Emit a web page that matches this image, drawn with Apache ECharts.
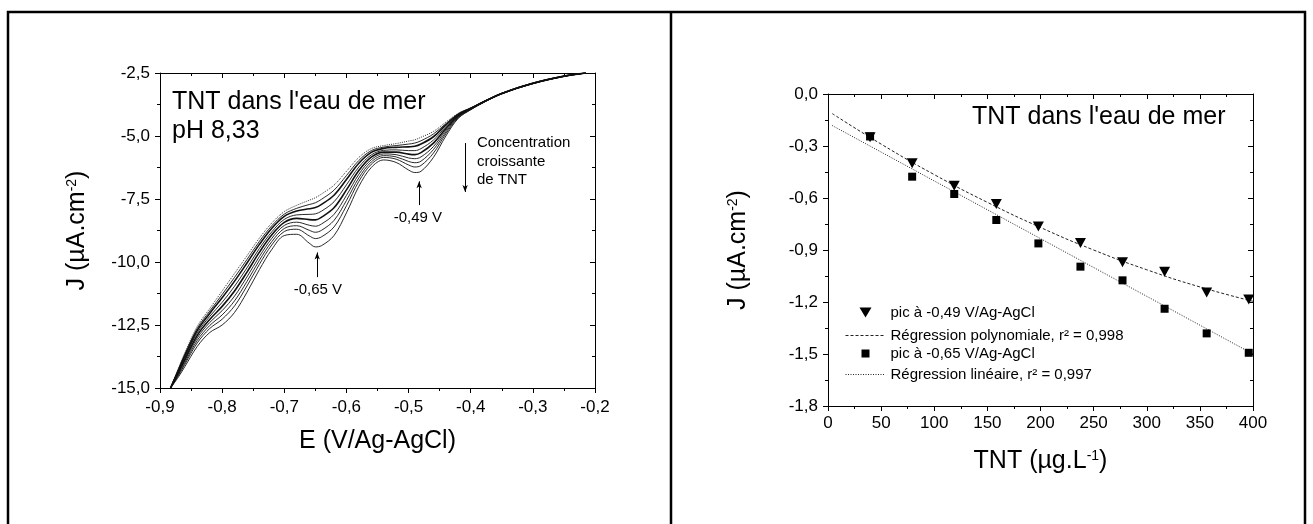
<!DOCTYPE html>
<html><head><meta charset="utf-8">
<script src="https://cdn.jsdelivr.net/npm/echarts@6/dist/echarts.min.js"></script>
<style>html,body{margin:0;padding:0;background:#fff}#c{width:1313px;height:524px}</style>
</head><body><div id="c"></div>
<script>
// ---------- Left panel: voltammograms ----------
const potentialE = [-0.883,-0.87,-0.86,-0.84,-0.82,-0.80,-0.78,-0.76,-0.74,-0.72,-0.70,-0.68,-0.66,-0.65,-0.64,-0.62,-0.60,-0.58,-0.56,-0.54,-0.52,-0.50,-0.49,-0.48,-0.46,-0.44,-0.42,-0.40,-0.38,-0.35,-0.30,-0.25,-0.215];
const curve1 = [-15.0,-14.2,-13.6,-12.55,-11.85,-11.15,-10.45,-9.75,-9.05,-8.45,-8.0,-7.75,-7.55,-7.45,-7.3,-6.95,-6.4,-5.85,-5.5,-5.38,-5.3,-5.2,-5.15,-5.05,-4.82,-4.45,-4.1,-3.88,-3.64,-3.3,-2.9,-2.62,-2.5];
const curve2 = [-15.0,-14.24,-13.66,-12.63,-11.95,-11.29,-10.61,-9.90,-9.18,-8.56,-8.10,-7.87,-7.72,-7.65,-7.51,-7.15,-6.57,-5.97,-5.58,-5.44,-5.38,-5.32,-5.28,-5.19,-4.92,-4.51,-4.12,-3.89,-3.64,-3.30,-2.90,-2.62,-2.5];
const curve3 = [-15.0,-14.27,-13.71,-12.71,-12.04,-11.42,-10.76,-10.04,-9.30,-8.66,-8.19,-7.98,-7.89,-7.84,-7.71,-7.35,-6.73,-6.08,-5.65,-5.49,-5.45,-5.43,-5.41,-5.32,-5.03,-4.56,-4.14,-3.90,-3.65,-3.31,-2.91,-2.62,-2.5];
const curve4 = [-15.0,-14.32,-13.78,-12.81,-12.16,-11.60,-10.96,-10.23,-9.46,-8.80,-8.31,-8.13,-8.11,-8.09,-7.98,-7.61,-6.94,-6.23,-5.75,-5.57,-5.55,-5.58,-5.58,-5.50,-5.16,-4.63,-4.17,-3.91,-3.65,-3.31,-2.91,-2.63,-2.5];
const curve5 = [-15.0,-14.36,-13.85,-12.91,-12.28,-11.76,-11.15,-10.40,-9.61,-8.92,-8.43,-8.27,-8.32,-8.33,-8.22,-7.85,-7.14,-6.37,-5.84,-5.64,-5.64,-5.72,-5.74,-5.66,-5.28,-4.70,-4.19,-3.92,-3.66,-3.31,-2.91,-2.63,-2.5];
const curve6 = [-15.0,-14.40,-13.92,-13.01,-12.40,-11.93,-11.35,-10.59,-9.78,-9.06,-8.55,-8.42,-8.54,-8.58,-8.49,-8.11,-7.36,-6.52,-5.94,-5.71,-5.74,-5.87,-5.90,-5.83,-5.42,-4.77,-4.22,-3.93,-3.66,-3.32,-2.92,-2.63,-2.5];
const curve7 = [-15.0,-14.45,-13.99,-13.11,-12.52,-12.10,-11.54,-10.77,-9.93,-9.19,-8.67,-8.56,-8.74,-8.82,-8.74,-8.35,-7.56,-6.66,-6.03,-5.78,-5.83,-6.01,-6.06,-6.00,-5.54,-4.84,-4.24,-3.94,-3.67,-3.32,-2.92,-2.63,-2.5];
const curve8 = [-15.0,-14.49,-14.06,-13.21,-12.64,-12.27,-11.74,-10.95,-10.09,-9.32,-8.79,-8.70,-8.96,-9.07,-9.00,-8.61,-7.77,-6.80,-6.12,-5.85,-5.92,-6.15,-6.23,-6.17,-5.68,-4.91,-4.27,-3.95,-3.67,-3.32,-2.92,-2.64,-2.5];
const curve9 = [-15.0,-14.55,-14.15,-13.35,-12.8,-12.5,-12.0,-11.2,-10.3,-9.5,-8.95,-8.9,-9.25,-9.4,-9.35,-8.95,-8.05,-7.0,-6.25,-5.95,-6.05,-6.35,-6.45,-6.4,-5.85,-5.0,-4.3,-3.96,-3.68,-3.33,-2.93,-2.64,-2.5];
const curves = [curve1, curve2, curve3, curve4, curve5, curve6, curve7, curve8, curve9];

// ---------- Right panel: calibration ----------
const tntConc = [39.6, 79.2, 118.8, 158.4, 198, 237.6, 277.2, 316.8, 356.4, 396];
const peak049 = [-0.25, -0.40, -0.53, -0.635, -0.765, -0.86, -0.97, -1.025, -1.145, -1.185];
const peak065 = [-0.245, -0.477, -0.577, -0.727, -0.862, -0.996, -1.075, -1.239, -1.381, -1.493];
const polyFitX = [4, 50, 100, 150, 200, 250, 300, 350, 400];
const polyFitJ = [-0.113, -0.289, -0.465, -0.625, -0.770, -0.900, -1.014, -1.113, -1.196];
const linFitX = [4, 400];
const linFitJ = [-0.182, -1.50];

const seriesNames = ['pic à -0,49 V/Ag-AgCl', 'Régression polynomiale, r² = 0,998', 'pic à -0,65 V/Ag-AgCl', 'Régression linéaire, r² = 0,997'];

const FONT = "'Liberation Sans', Arial, Helvetica, sans-serif";
const comma = v => (Math.round(v * 10) / 10).toFixed(1).replace('.', ',');
const titleRich = {
  a: { fontSize: 25, fontFamily: FONT, color: '#000' },
  s: { fontSize: 14, fontFamily: FONT, color: '#000', verticalAlign: 'top' }
};
const TRI_DOWN = 'path://M0,0L12,0L6,10Z';
const SQUARE = 'path://M0,0L8,0L8,8L0,8Z';

function mainAxis(opt) {
  return Object.assign({
    type: 'value',
    axisLine: { show: true, onZero: false, lineStyle: { color: '#000', width: 1 } },
    axisTick: { show: true, length: 5, lineStyle: { color: '#000', width: 1 } },
    minorTick: { show: true, splitNumber: 2, length: 3, lineStyle: { color: '#000', width: 1 } },
    splitLine: { show: false },
    minorSplitLine: { show: false },
    axisLabel: { color: '#000', fontSize: 17, fontFamily: FONT },
    nameLocation: 'middle',
    nameTextStyle: { rich: titleRich }
  }, opt);
}
function mirrorAxis(opt) {
  return Object.assign({
    type: 'value',
    axisLine: { show: true, onZero: false, lineStyle: { color: '#000', width: 1 } },
    axisTick: { show: true, inside: true, length: 5, lineStyle: { color: '#000', width: 1 } },
    minorTick: { show: true, splitNumber: 2, length: 3, lineStyle: { color: '#000', width: 1 } },
    splitLine: { show: false },
    axisLabel: { show: false }
  }, opt);
}

const curveSeries = curves.map((c, k) => ({
  type: 'line',
  name: 'curve' + (k + 1),
  xAxisIndex: 0, yAxisIndex: 0,
  data: potentialE.map((e, i) => [e, c[i]]),
  showSymbol: false,
  smooth: 0.35,
  silent: true,
  lineStyle: {
    color: '#111',
    width: (k === 2 || k === 4) ? 1.6 : 0.9,
    type: k === 0 ? [1, 1.2] : 'solid'
  },
  z: 2
}));

curveSeries[0].markLine = {
  silent: true,
  symbol: ['none', 'arrow'],
  symbolSize: [4, 7],
  label: { show: false },
  lineStyle: { color: '#000', width: 1, type: 'solid' },
  data: [
    [{ coord: [-0.409, -5.28] }, { coord: [-0.409, -7.22] }],
    [{ coord: [-0.483, -7.74] }, { coord: [-0.483, -6.80] }],
    [{ coord: [-0.647, -10.6] }, { coord: [-0.647, -9.62] }]
  ]
};

const legendText = { fontSize: 15, color: '#000', fontFamily: FONT };
const option = {
  animation: false,
  backgroundColor: '#fff',
  textStyle: { fontFamily: FONT },
  grid: [
    { left: 160, top: 73, width: 435, height: 315 },
    { left: 828, top: 94, width: 425, height: 312 }
  ],
  title: [
    { text: "TNT dans l'eau de mer\npH 8,33", left: 172, top: 88, padding: 0,
      textStyle: { fontSize: 25, fontWeight: 'normal', color: '#000', fontFamily: FONT, lineHeight: 29 } },
    { text: "TNT dans l'eau de mer", left: 972, top: 103, padding: 0,
      textStyle: { fontSize: 25, fontWeight: 'normal', color: '#000', fontFamily: FONT, lineHeight: 29 } }
  ],
  legend: [
    { data: [
        { name: seriesNames[0], icon: TRI_DOWN, itemStyle: { color: '#000', opacity: 1 } },
        { name: seriesNames[1], itemStyle: { opacity: 0 }, lineStyle: { color: '#222', width: 1, type: [3, 2] } }
      ],
      orient: 'vertical', left: 845, top: 305, itemWidth: 40, itemHeight: 10, itemGap: 8, padding: 0,
      symbolKeepAspect: true, textStyle: legendText, selectedMode: false },
    { data: [
        { name: seriesNames[2], icon: SQUARE, itemStyle: { color: '#000', opacity: 1 } },
        { name: seriesNames[3], itemStyle: { opacity: 0 }, lineStyle: { color: '#222', width: 1, type: [1, 1.5] } }
      ],
      orient: 'vertical', left: 845, top: 346, itemWidth: 40, itemHeight: 8, itemGap: 6, padding: 0,
      symbolKeepAspect: true, textStyle: legendText, selectedMode: false }
  ],
  xAxis: [
    mainAxis({ gridIndex: 0, position: 'bottom', min: -0.9, max: -0.2, interval: 0.1,
      axisLabel: { color: '#000', fontSize: 17, fontFamily: FONT, margin: 11, formatter: comma },
      name: '{a|E (V/Ag-AgCl)}', nameGap: 41 }),
    mirrorAxis({ gridIndex: 0, position: 'top', min: -0.9, max: -0.2, interval: 0.1 }),
    mainAxis({ gridIndex: 1, position: 'bottom', min: 0, max: 400, interval: 50,
      axisLabel: { color: '#000', fontSize: 17, fontFamily: FONT, margin: 9 },
      name: '{a|TNT (µg.L}{s|-1}{a|)}', nameGap: 43 }),
    mirrorAxis({ gridIndex: 1, position: 'top', min: 0, max: 400, interval: 50 })
  ],
  yAxis: [
    mainAxis({ gridIndex: 0, position: 'left', min: -15, max: -2.5, interval: 2.5,
      axisLabel: { color: '#000', fontSize: 17, fontFamily: FONT, margin: 10, formatter: comma },
      name: '{a|J (µA.cm}{s|-2}{a|)}', nameGap: 70 }),
    mirrorAxis({ gridIndex: 0, position: 'right', min: -15, max: -2.5, interval: 2.5 }),
    mainAxis({ gridIndex: 1, position: 'left', min: -1.8, max: 0, interval: 0.3,
      axisLabel: { color: '#000', fontSize: 17, fontFamily: FONT, margin: 10, formatter: comma },
      name: '{a|J (µA.cm}{s|-2}{a|)}', nameGap: 77 }),
    mirrorAxis({ gridIndex: 1, position: 'right', min: -1.8, max: 0, interval: 0.3 })
  ],
  series: curveSeries.concat([
    { type: 'line', name: seriesNames[1], xAxisIndex: 2, yAxisIndex: 2,
      data: polyFitX.map((x, i) => [x, polyFitJ[i]]), smooth: true, showSymbol: false, symbol: 'none',
      lineStyle: { color: '#222', width: 1, type: [3, 2] }, itemStyle: { color: '#222' }, z: 3 },
    { type: 'line', name: seriesNames[3], xAxisIndex: 2, yAxisIndex: 2,
      data: linFitX.map((x, i) => [x, linFitJ[i]]), showSymbol: false, symbol: 'none',
      lineStyle: { color: '#222', width: 1, type: [1, 1.5] }, itemStyle: { color: '#222' }, z: 3 },
    { type: 'scatter', name: seriesNames[2], xAxisIndex: 2, yAxisIndex: 2,
      data: tntConc.map((x, i) => [x, peak065[i]]), symbol: 'rect', symbolSize: 8,
      itemStyle: { color: '#000', opacity: 1 }, z: 4 },
    { type: 'scatter', name: seriesNames[0], xAxisIndex: 2, yAxisIndex: 2,
      data: tntConc.map((x, i) => [x, peak049[i]]), symbol: 'triangle', symbolRotate: 180, symbolSize: [11, 10],
      itemStyle: { color: '#000', opacity: 1 }, z: 5 }
  ])
};

const chart = echarts.init(document.getElementById('c'), null, { renderer: 'canvas' });
chart.setOption(option);

// annotations positioned through the left grid's scales
const px = (x, y) => chart.convertToPixel({ gridIndex: 0 }, [x, y]);
const pA = px(-0.485, -8.25), pB = px(-0.646, -11.1), pC = px(-0.390, -5.28);
const txt = { fontSize: 15, fontFamily: FONT, fill: '#000' };
chart.setOption({
  graphic: [
    { type: 'text', x: pA[0], y: pA[1], style: Object.assign({ text: '-0,49 V', align: 'center', verticalAlign: 'middle' }, txt) },
    { type: 'text', x: pB[0], y: pB[1], style: Object.assign({ text: '-0,65 V', align: 'center', verticalAlign: 'middle' }, txt) },
    { type: 'text', x: pC[0], y: pC[1] - 9, style: Object.assign({ text: 'Concentration\ncroissante\nde TNT', align: 'left', verticalAlign: 'top', lineHeight: 18.5 }, txt) },
    { type: 'rect', silent: true, shape: { x: 8, y: 12, width: 1297, height: 530 }, style: { fill: 'none', stroke: '#000', lineWidth: 2.5 } },
    { type: 'line', silent: true, shape: { x1: 671, y1: 12, x2: 671, y2: 530 }, style: { stroke: '#000', lineWidth: 2.5 } }
  ]
});
</script>
</body></html>
